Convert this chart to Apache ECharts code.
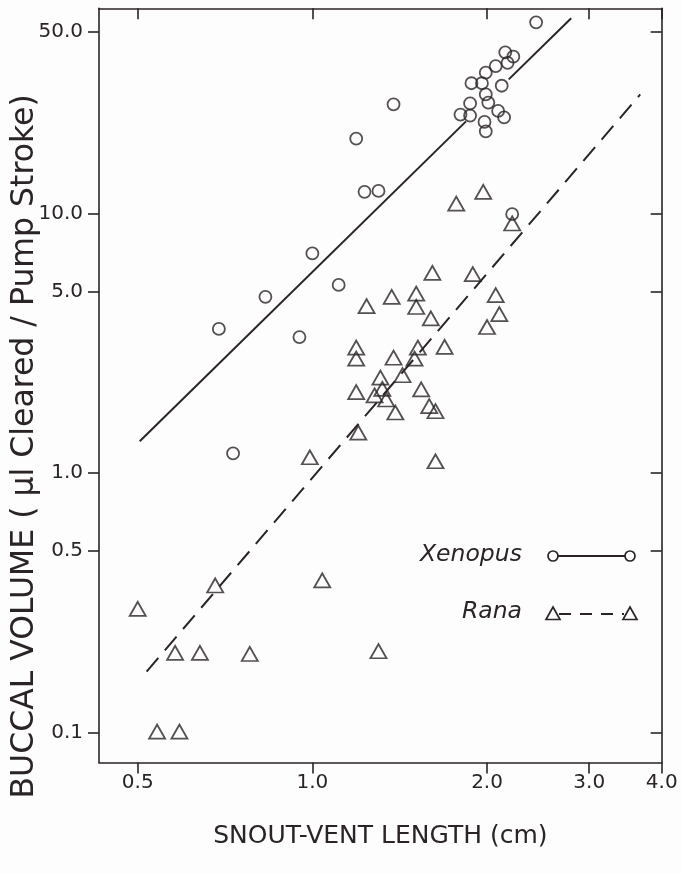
<!DOCTYPE html>
<html><head><meta charset="utf-8">
<script src="https://cdn.jsdelivr.net/npm/echarts@6/dist/echarts.min.js"></script>
<style>html,body{margin:0;padding:0;background:#fdfdfd}#c{width:681px;height:874px}</style>
</head><body><div id="c"></div><script>
// Xenopus (circles)
const xenopusX = [2.43, 2.15, 2.22, 2.17, 2.07, 1.99, 1.88, 1.96, 2.12, 1.99, 2.01, 1.87, 1.80, 1.87, 2.09, 2.14, 1.98, 1.99, 2.21, 1.38, 1.19, 1.23, 1.30, 1.00, 1.11, 0.83, 0.69, 0.95, 0.73];
const xenopusY = [54.4, 41.7, 40.1, 38.0, 36.9, 34.8, 31.7, 31.7, 31.0, 28.7, 26.7, 26.5, 24.0, 23.8, 24.8, 23.4, 22.5, 20.7, 9.93, 26.3, 19.4, 12.1, 12.2, 7.01, 5.30, 4.77, 3.59, 3.34, 1.19];
// Rana (triangles)
const ranaX = [1.97, 1.77, 2.21, 1.61, 1.89, 1.37, 1.51, 1.51, 1.24, 1.60, 2.07, 2.10, 2.00, 1.19, 1.19, 1.52, 1.69, 1.38, 1.50, 1.43, 1.31, 1.32, 1.19, 1.28, 1.34, 1.54, 1.59, 1.63, 1.39, 1.20, 0.99, 1.63, 0.68, 0.50, 0.58, 0.64, 0.78, 1.30, 0.54, 0.59, 1.04];
const ranaY = [12.1, 10.9, 9.14, 5.90, 5.83, 4.77, 4.91, 4.36, 4.39, 3.94, 4.84, 4.09, 3.65, 3.04, 2.76, 3.04, 3.06, 2.78, 2.76, 2.38, 2.33, 2.11, 2.05, 1.99, 1.92, 2.10, 1.81, 1.73, 1.71, 1.43, 1.15, 1.11, 0.369, 0.300, 0.203, 0.203, 0.201, 0.206, 0.101, 0.101, 0.386];
// Fitted lines (the Xenopus line is interrupted through the cluster)
const xenopusFitA = [[0.504, 1.325], [1.84, 22.6]];
const xenopusFitB = [[2.18, 32.8], [2.793, 56.4]];
const ranaFit = [[0.518, 0.172], [3.673, 28.7]];
// Axis ticks
const xTickValues = [0.5, 1, 2, 3, 4];
const xTickLabels = ['0.5', '1.0', '2.0', '3.0', '4.0'];
const yTickValues = [0.1, 0.5, 1, 5, 10, 50];
const yTickLabels = ['0.1', '0.5', '1.0', '5.0', '10.0', '50.0'];

const INK = '#2a2426';
const FONT = 'DejaVu Sans';

function zip(a, b) { return a.map((v, i) => [v, b[i]]); }
function lookup(vals, labels) {
  return function (v) {
    for (let i = 0; i < vals.length; i++) {
      if (Math.abs(Math.log10(v) - Math.log10(vals[i])) < 0.01) return labels[i];
    }
    for (let i = 0; i < vals.length; i++) {
      if (Math.abs(v - Math.log10(vals[i])) < 0.01) return labels[i];
    }
    return '';
  };
}

const chart = echarts.init(document.getElementById('c'), null, {renderer: 'canvas'});
const baseAxis = {
  type: 'log', logBase: 10,
  axisLine: {show: true, lineStyle: {color: INK, width: 1.6}},
  splitLine: {show: false}, minorTick: {show: false}, minorSplitLine: {show: false}
};
const option = {
  backgroundColor: '#fdfdfd',
  animation: false,
  grid: {left: 99, right: 19.3, top: 8.3, bottom: 111.5, outerBoundsMode: 'none'},
  xAxis: [
    Object.assign({}, baseAxis, {
      position: 'bottom', min: 0.4288, max: 4.0,
      axisTick: {show: true, inside: false, length: 11, lineStyle: {color: INK, width: 1.6}, customValues: xTickValues},
      axisLabel: {show: true, margin: 10, color: INK, fontFamily: FONT, fontSize: 20, customValues: xTickValues, formatter: lookup(xTickValues, xTickLabels)},
      name: 'SNOUT-VENT LENGTH (cm)', nameLocation: 'middle', nameGap: 61, nameMoveOverlap: false,
      nameTextStyle: {color: INK, fontFamily: FONT, fontSize: 25}
    }),
    Object.assign({}, baseAxis, {
      position: 'top', min: 0.4288, max: 4.0,
      axisTick: {show: true, inside: true, length: 11, lineStyle: {color: INK, width: 1.6}, customValues: xTickValues},
      axisLabel: {show: false}
    })
  ],
  yAxis: [
    Object.assign({}, baseAxis, {
      position: 'left', min: 0.0768, max: 61.6,
      axisTick: {show: true, inside: false, length: 11, lineStyle: {color: INK, width: 1.6}, customValues: yTickValues},
      axisLabel: {show: true, margin: 16, color: INK, fontFamily: FONT, fontSize: 20, customValues: yTickValues, formatter: lookup(yTickValues, yTickLabels)},
      name: 'BUCCAL VOLUME ( \u03bcl Cleared / Pump Stroke)', nameLocation: 'middle', nameGap: 58, nameRotate: 90, nameMoveOverlap: false,
      nameTextStyle: {color: INK, fontFamily: FONT, fontSize: 31.5, padding: [0, 122, 0, 0]}
    }),
    Object.assign({}, baseAxis, {
      position: 'right', min: 0.0768, max: 61.6,
      axisTick: {show: true, inside: true, length: 11, lineStyle: {color: INK, width: 1.6}, customValues: yTickValues},
      axisLabel: {show: false}
    })
  ],
  series: [
    {type: 'line', data: xenopusFitA, showSymbol: false, silent: true, lineStyle: {color: INK, width: 2}},
    {type: 'line', data: xenopusFitB, showSymbol: false, silent: true, lineStyle: {color: INK, width: 2}},
    {type: 'line', data: ranaFit, showSymbol: false, silent: true, lineStyle: {color: INK, width: 2, type: [18, 10]}},
    {type: 'scatter', data: zip(xenopusX, xenopusY), symbol: 'circle', symbolSize: 12,
      itemStyle: {color: 'rgba(0,0,0,0)', borderColor: INK, borderWidth: 1.8}},
    {type: 'scatter', data: zip(ranaX, ranaY), symbol: 'triangle', symbolSize: [16, 14],
      itemStyle: {color: 'rgba(0,0,0,0)', borderColor: INK, borderWidth: 1.8}}
  ],
  graphic: [
    {type: 'text', left: 420, top: 543, style: {text: 'Xenopus', fill: INK, font: 'italic 23.5px "DejaVu Sans"'}},
    {type: 'line', shape: {x1: 558, y1: 556, x2: 625, y2: 556}, style: {stroke: INK, lineWidth: 1.8}},
    {type: 'circle', shape: {cx: 553, cy: 556, r: 5}, style: {fill: 'none', stroke: INK, lineWidth: 1.7}},
    {type: 'circle', shape: {cx: 630, cy: 556, r: 5}, style: {fill: 'none', stroke: INK, lineWidth: 1.7}},
    {type: 'text', left: 462, top: 600, style: {text: 'Rana', fill: INK, font: 'italic 23.5px "DejaVu Sans"'}},
    {type: 'line', shape: {x1: 559, y1: 614, x2: 624, y2: 614}, style: {stroke: INK, lineWidth: 1.8, lineDash: [12, 9]}},
    {type: 'polygon', shape: {points: [[546, 619.5], [560, 619.5], [553, 607]]}, style: {fill: 'none', stroke: INK, lineWidth: 1.7}},
    {type: 'polygon', shape: {points: [[623, 619.5], [637, 619.5], [630, 607]]}, style: {fill: 'none', stroke: INK, lineWidth: 1.7}}
  ]
};
chart.setOption(option);
</script></body></html>
